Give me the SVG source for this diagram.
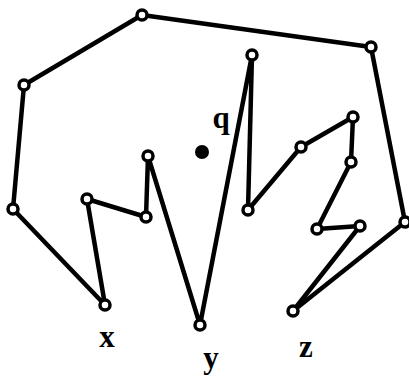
<svg xmlns="http://www.w3.org/2000/svg" width="409" height="377" viewBox="0 0 409 377">
<style>
.edge{fill:none;stroke:#000;stroke-width:4.5;stroke-linejoin:round;stroke-linecap:round}
.v{fill:#fff;stroke:#000;stroke-width:3.5}
.lbl{font-family:"Liberation Serif","DejaVu Serif",serif;font-weight:bold;font-size:31px;fill:#000;text-anchor:middle}
</style>
<rect width="409" height="377" fill="#fff"/>
<g id="connectors">
<polygon class="edge" points="142,15 24,85 13,209 105,305 87,199 146,217 148,156 200,325 252,55 248,210 301,147 353,117 351,162 317,229 360,226 293,311 405,222 371,47"/>
</g>
<g id="nodes">
<g id="n1"><circle class="v" cx="142" cy="15" r="5"/></g>
<g id="n2"><circle class="v" cx="24" cy="85" r="5"/></g>
<g id="n3"><circle class="v" cx="13" cy="209" r="5"/></g>
<g id="nx"><circle class="v" cx="105" cy="305" r="5"/></g>
<g id="n5"><circle class="v" cx="87" cy="199" r="5"/></g>
<g id="n6"><circle class="v" cx="146" cy="217" r="5"/></g>
<g id="n7"><circle class="v" cx="148" cy="156" r="5"/></g>
<g id="ny"><circle class="v" cx="200" cy="325" r="5"/></g>
<g id="n9"><circle class="v" cx="252" cy="55" r="5"/></g>
<g id="n10"><circle class="v" cx="248" cy="210" r="5"/></g>
<g id="n11"><circle class="v" cx="301" cy="147" r="5"/></g>
<g id="n12"><circle class="v" cx="353" cy="117" r="5"/></g>
<g id="n13"><circle class="v" cx="351" cy="162" r="5"/></g>
<g id="n14"><circle class="v" cx="317" cy="229" r="5"/></g>
<g id="n15"><circle class="v" cx="360" cy="226" r="5"/></g>
<g id="nz"><circle class="v" cx="293" cy="311" r="5"/></g>
<g id="n17"><circle class="v" cx="405" cy="222" r="5"/></g>
<g id="n18"><circle class="v" cx="371" cy="47" r="5"/></g>
<g id="q"><circle cx="202" cy="152" r="7" fill="#000"/></g>
</g>
<g id="labels">
<text class="lbl" x="107" y="347">x</text>
<text class="lbl" x="211" y="368">y</text>
<text class="lbl" x="306" y="357">z</text>
<text class="lbl" x="221" y="128">q</text>
</g>
</svg>
